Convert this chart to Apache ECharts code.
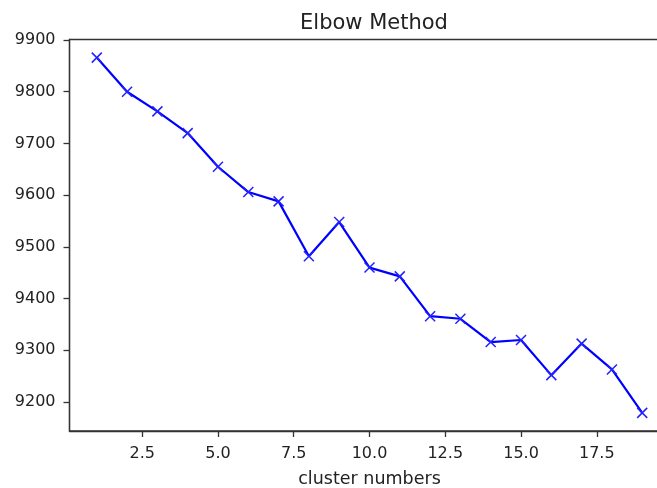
<!DOCTYPE html>
<html>
<head>
<meta charset="utf-8">
<script src="https://cdn.jsdelivr.net/npm/echarts@6/dist/echarts.min.js"></script>
<style>
  html, body { margin: 0; padding: 0; background: #fff; }
  #chart { width: 657px; height: 488px; }
</style>
</head>
<body>
<div id="chart"></div>
<script>
// cluster count k and the SSE
const clusters = [1, 2, 3, 4, 5, 6, 7, 8, 9, 10, 11, 12, 13, 14, 15, 16, 17, 18, 19]
const sse = [9866, 9800, 9762, 9720, 9655, 9606, 9588, 9482, 9548, 9460,
  9443, 9366, 9361, 9316, 9320, 9252, 9313, 9263, 9179]
const xTicks = [2.5, 5.0, 7.5, 10.0, 12.5, 15.0, 17.5]
const yTicks = [9200, 9300, 9400, 9500, 9600, 9700, 9800, 9900]

const chart = echarts.init(document.getElementById('chart'))

const tickStyle = { color: '#333', width: 1.3 }

const option = {
  animation: false,
  backgroundColor: '#fff',
  title: {
    text: 'Elbow Method',
    left: 369,
    textAlign: 'center',
    top: 8,
    textStyle: { fontFamily: 'DejaVu Sans', fontSize: 21, fontWeight: 'normal', color: '#222' }
  },
  // plot box runs past the right edge of the picture (cropped, as in the reference)
  grid: {
    left: 69.5, top: 39.5, bottom: 57, width: 600,
    outerBoundsMode: 'none',
    containLabel: false,
    show: true, borderColor: '#333', borderWidth: 1.3, backgroundColor: 'transparent'
  },
  xAxis: {
    type: 'value',
    min: 0.1,
    max: 19.9,
    name: 'cluster numbers',
    nameLocation: 'middle',
    nameGap: 39,
    nameTextStyle: { fontFamily: 'DejaVu Sans', fontSize: 17.5, color: '#222' },
    axisLine: { lineStyle: tickStyle },
    axisTick: { length: 6, lineStyle: tickStyle, customValues: xTicks },
    splitLine: { show: false },
    axisLabel: {
      customValues: xTicks,
      margin: 15,
      fontFamily: 'DejaVu Sans',
      fontSize: 16,
      color: '#222',
      formatter: v => v.toFixed(1)
    }
  },
  yAxis: {
    type: 'value',
    min: 9144,
    max: 9901,
    axisLine: { show: true, lineStyle: tickStyle },
    axisTick: { show: true, length: 6, lineStyle: tickStyle, customValues: yTicks },
    splitLine: { show: false },
    axisLabel: {
      customValues: yTicks,
      margin: 14,
      fontFamily: 'DejaVu Sans',
      fontSize: 16,
      color: '#222',
      formatter: v => String(v)
    }
  },
  series: [
    {
      type: 'line',
      data: clusters.map((k, i) => [k, sse[i]]),
      symbol: 'path://M0,0L10,10M10,0L0,10',
      symbolSize: 10,
      showAllSymbol: true,
      lineStyle: { color: '#0000ff', width: 2.2 },
      itemStyle: { color: 'none', borderColor: '#2222ff', borderWidth: 1.5 }
    }
  ]
}

chart.setOption(option)
</script>
</body>
</html>
